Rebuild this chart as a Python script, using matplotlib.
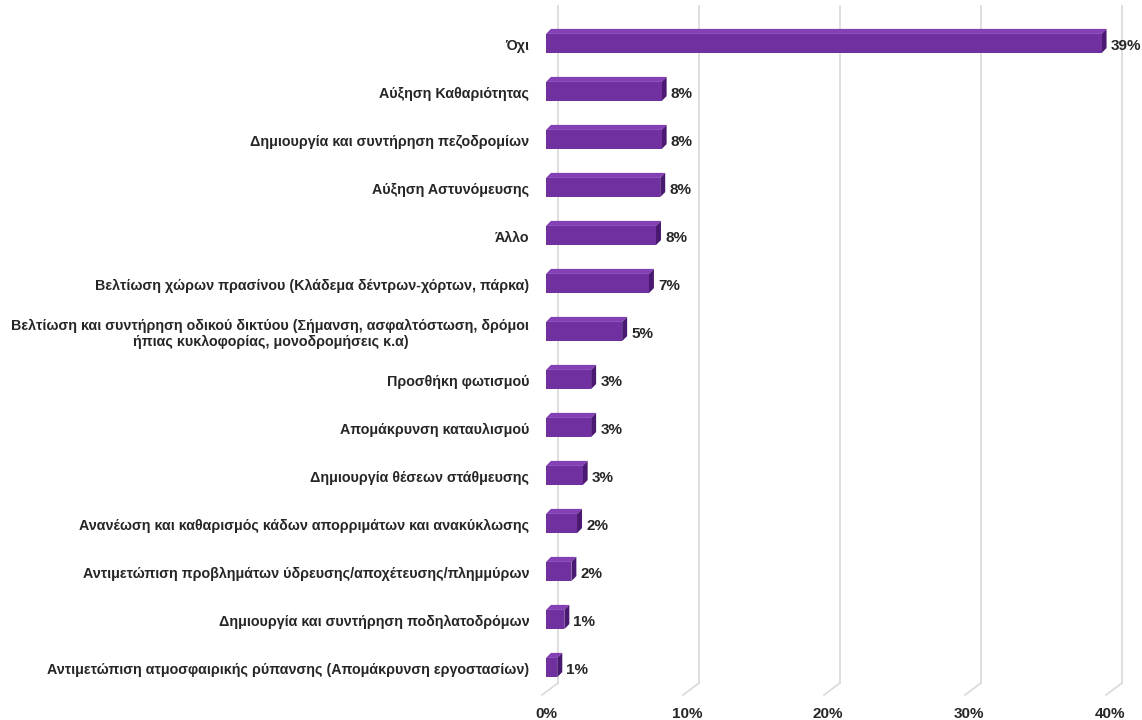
import matplotlib
matplotlib.use("Agg")
import matplotlib.pyplot as plt
from matplotlib.patches import Polygon, Rectangle
from matplotlib.lines import Line2D
import numpy as np

CATEGORIES = [
    "Όχι",
    "Αύξηση Καθαριότητας",
    "Δημιουργία και συντήρηση πεζοδρομίων",
    "Αύξηση Αστυνόμευσης",
    "Άλλο",
    "Βελτίωση χώρων πρασίνου (Κλάδεμα δέντρων-χόρτων, πάρκα)",
    "Βελτίωση και συντήρηση οδικού δικτύου (Σήμανση, ασφαλτόστωση, δρόμοι\nήπιας κυκλοφορίας, μονοδρομήσεις κ.α)",
    "Προσθήκη φωτισμού",
    "Απομάκρυνση καταυλισμού",
    "Δημιουργία θέσεων στάθμευσης",
    "Ανανέωση και καθαρισμός κάδων απορριμάτων και ανακύκλωσης",
    "Αντιμετώπιση προβλημάτων ύδρευσης/αποχέτευσης/πλημμύρων",
    "Δημιουργία και συντήρηση ποδηλατοδρόμων",
    "Αντιμετώπιση ατμοσφαιρικής ρύπανσης (Απομάκρυνση εργοστασίων)",
]
VALUES = [39.4, 8.2, 8.2, 8.1, 7.8, 7.3, 5.4, 3.2, 3.2, 2.6, 2.2, 1.8, 1.3, 0.8]
LABELS = ["39%", "8%", "8%", "8%", "8%", "7%", "5%", "3%", "3%", "3%", "2%", "2%", "1%", "1%"]
XTICKS = [0, 10, 20, 30, 40]
XTICK_LABELS = ["0%", "10%", "20%", "30%", "40%"]

FRONT = "#7030A0"
TOP = "#8240b4"
SIDE = "#4a1a72"
GRID = "#d9d9d9"
TXT = "#262626"
FONT = "Liberation Sans"

W, H = 1142, 720
fig = plt.figure(figsize=(W / 100, H / 100), dpi=100)
ax = fig.add_axes([546 / W, (H - 691.5) / H, 564 / W, 672 / H])
ax.patch.set_visible(False)
ax.set_xlim(0, 40)
ax.set_ylim(len(VALUES) - 0.5, -0.5)
for s in ax.spines.values():
    s.set_visible(False)
ax.set_xticks([])
ax.set_yticks([])

# pixel -> data scale for the 3D offsets
px_x = 40 / 564
px_y = len(VALUES) / 672
dx = 5 * px_x
dy = 5 * px_y
bh = 0.40

# back-plane gridlines with a slanted floor
for t in XTICKS:
    xf, _ = ax.transData.transform((t, 0))
    xb = xf + 12
    fig.add_artist(Line2D([xb / W, xb / W], [1 - 6 / H, 1 - 683 / H],
                          color=GRID, lw=1.2, zorder=0))
    fig.add_artist(Line2D([xb / W, (xf - 4) / W], [1 - 683 / H, 1 - 695 / H],
                          color=GRID, lw=1.2, zorder=0))

y = np.arange(len(VALUES))
for yi, v, lab in zip(y, VALUES, LABELS):
    top = yi - bh / 2
    bot = yi + bh / 2
    ax.add_patch(Polygon([(0, top), (v, top), (v + dx, top - dy), (dx, top - dy)],
                         closed=True, facecolor=TOP, edgecolor="none", zorder=3))
    ax.add_patch(Polygon([(v, top), (v, bot), (v + dx, bot - dy), (v + dx, top - dy)],
                         closed=True, facecolor=SIDE, edgecolor="none", zorder=3))
    ax.add_patch(Rectangle((0, top), v, bh, facecolor=FRONT, edgecolor="none", zorder=4))
    ax.annotate(lab, xy=(v + dx, yi), xytext=(3, -2), textcoords="offset points",
                ha="left", va="center", fontsize=11, fontweight="bold",
                color=TXT, family=FONT, annotation_clip=False)

for yi, c in zip(y, CATEGORIES):
    ax.annotate(c, xy=(0, yi), xytext=(-12, -2), textcoords="offset points",
                ha="right", va="center", multialignment="center", fontsize=10.3,
                fontweight="bold", color=TXT, family=FONT,
                annotation_clip=False)

for t, lab in zip(XTICKS, XTICK_LABELS):
    ax.annotate(lab, xy=(t, len(VALUES) - 0.5), xytext=(0, -16),
                textcoords="offset points", ha="center", va="center",
                fontsize=11, fontweight="bold", color=TXT, family=FONT,
                annotation_clip=False)

fig.savefig("out.png", dpi=100)
